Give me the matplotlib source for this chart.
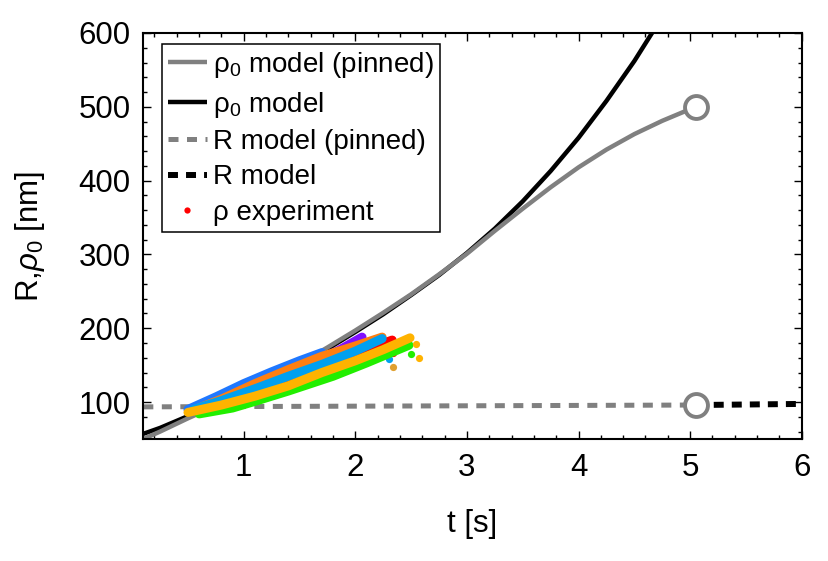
"""
Radius growth figure: rho_0 / R models (free and pinned) vs the measured rho traces.
matplotlib only.
"""

import matplotlib
matplotlib.use("Agg")
import matplotlib.pyplot as plt
from matplotlib.lines import Line2D
from matplotlib.ticker import MultipleLocator

# --- model curves (t in s, values in nm) ---
T_RHO0 = [0.1, 0.25, 0.5, 0.75, 1.0, 1.25, 1.5, 1.75, 2.0, 2.25, 2.5, 2.75,
          3.0, 3.25, 3.5, 3.75, 4.0, 4.25, 4.5, 4.7]
RHO0_MODEL = [57, 65, 81, 96, 113, 131, 151, 172, 195, 219, 245, 272,
              302, 335, 372, 413, 458, 508, 562, 610]

T_RHO0_PIN = [0.1, 0.25, 0.5, 0.75, 1.0, 1.25, 1.5, 1.75, 2.0, 2.25, 2.5, 2.75,
              3.0, 3.25, 3.5, 3.75, 4.0, 4.25, 4.5, 4.75, 5.05]
RHO0_PINNED = [50, 60, 78, 95, 113, 132, 152, 174, 197, 221, 246, 273,
               301, 332, 362, 391, 418, 442, 463, 481, 500]

T_R_PIN = [0.1, 5.05]
R_PINNED = [93.5, 96]
T_R = [5.05, 6.0]
R_MODEL = [96, 97.5]

# pinning point (open circles)
T_PIN = 5.05
PIN_VALUES = [500, 96]

# --- experimental rho traces ---
T_BLUE = [0.5, 0.75, 1.0, 1.25, 1.5, 1.7]
RHO_BLUE = [90, 107, 125, 141, 156, 167]
T_PURPLE = [0.55, 0.8, 1.1, 1.4, 1.62, 1.85, 2.06]
RHO_PURPLE = [88, 101, 121, 140, 153, 170, 188]
T_ORANGE = [0.55, 0.8, 1.1, 1.4, 1.7, 2.0, 2.24]
RHO_ORANGE = [89, 104, 125, 144, 162, 176, 188]
T_RED = [0.6, 1.0, 1.4, 1.7, 1.96, 2.15, 2.33]
RHO_RED = [88, 106, 130, 146, 160, 174, 184]
T_CYAN = [0.55, 0.8, 1.1, 1.4, 1.7, 2.0, 2.24]
RHO_CYAN = [90, 102, 118, 135, 151, 169, 186]
T_GREEN = [0.6, 0.9, 1.1, 1.4, 1.8, 2.1, 2.48]
RHO_GREEN = [84, 92, 101, 115, 135, 153, 177]
T_YELLOW = [0.5, 0.8, 1.1, 1.4, 1.7, 2.0, 2.25, 2.49]
RHO_YELLOW = [86, 96, 108, 122, 140, 156, 171, 187]

# stray points at the end of the traces
TAIL_T_ORANGE = [2.24]
TAIL_RHO_ORANGE = [163]
TAIL_T_RED = [2.34]
TAIL_RHO_RED = [166]
TAIL_T_CYAN = [2.30]
TAIL_RHO_CYAN = [159]
TAIL_T_GREEN = [2.50]
TAIL_RHO_GREEN = [165]
TAIL_T_YELLOW = [2.54, 2.57]
TAIL_RHO_YELLOW = [178, 160]
TAIL_T_GOLD = [2.34]
TAIL_RHO_GOLD = [148]

GRAY = "#808080"


def draw_traces(ax):
    traces = [
        (T_PURPLE, RHO_PURPLE, [], [], "#7F10FF"),
        (T_BLUE, RHO_BLUE, [], [], "#1F78FF"),
        (T_ORANGE, RHO_ORANGE, TAIL_T_ORANGE, TAIL_RHO_ORANGE, "#FF7F10"),
        (T_RED, RHO_RED, TAIL_T_RED, TAIL_RHO_RED, "#FF0000"),
        (T_CYAN, RHO_CYAN, TAIL_T_CYAN, TAIL_RHO_CYAN, "#00A0F0"),
        (T_GREEN, RHO_GREEN, TAIL_T_GREEN, TAIL_RHO_GREEN, "#22EE00"),
        (T_YELLOW, RHO_YELLOW, TAIL_T_YELLOW, TAIL_RHO_YELLOW, "#FFB300"),
        ([], [], TAIL_T_GOLD, TAIL_RHO_GOLD, "#E0A030"),
    ]
    for t, r, tt, tr, c in traces:
        if t:
            ax.plot(t, r, color=c, lw=6.5, solid_capstyle="round",
                    solid_joinstyle="round", zorder=3)
        if tt:
            ax.plot(tt, tr, "o", color=c, ms=5.2, mec="none", zorder=3)


def main():
    plt.rcParams["font.family"] = ["Liberation Sans", "DejaVu Sans"]
    plt.rcParams["mathtext.fontset"] = "custom"
    plt.rcParams["mathtext.rm"] = "Liberation Sans"
    plt.rcParams["mathtext.it"] = "Liberation Sans:italic"

    fig = plt.figure(figsize=(8.29, 5.61), dpi=100)
    ax = fig.add_axes([0.1729, 0.2175, 0.7942, 0.7237])

    l_pin, = ax.plot(T_RHO0_PIN, RHO0_PINNED, color=GRAY, lw=3.2, zorder=2.2,
                     solid_capstyle="butt")
    l_mod, = ax.plot(T_RHO0, RHO0_MODEL, color="black", lw=3.2, zorder=2.1,
                     solid_capstyle="butt")
    l_rpin, = ax.plot(T_R_PIN, R_PINNED, color=GRAY, lw=3.6, dashes=(2.0, 1.7),
                      zorder=2)
    l_r, = ax.plot(T_R, R_MODEL, color="black", lw=4.3, dashes=(1.67, 1.35),
                   zorder=2)
    ax.plot([T_PIN] * len(PIN_VALUES), PIN_VALUES, "o", ms=16.5, mfc="white",
            mec=GRAY, mew=2.8, zorder=5)

    draw_traces(ax)

    ax.set_xlim(0.1, 6)
    ax.set_ylim(50, 600)
    ax.xaxis.set_major_locator(MultipleLocator(1))
    ax.xaxis.set_minor_locator(MultipleLocator(0.2))
    ax.yaxis.set_major_locator(MultipleLocator(100))
    ax.yaxis.set_minor_locator(MultipleLocator(20))
    ax.tick_params(which="both", direction="in", top=True, right=True,
                   width=1.0, labelsize=22.5)
    ax.tick_params(which="major", length=6)
    ax.tick_params(which="minor", length=3)
    ax.tick_params(axis="x", pad=10)
    ax.tick_params(axis="y", pad=9)
    for s in ax.spines.values():
        s.set_linewidth(1.5)

    ax.set_xlabel("t [s]", fontsize=22.5, labelpad=19)
    ax.set_ylabel("R,$\\rho_0$ [nm]", fontsize=22.5, labelpad=23)

    dot = Line2D([], [], ls="none", marker="o", ms=4.5, color="red", mec="none")
    leg = ax.legend(
        [l_pin, l_mod, l_rpin, l_r, dot],
        ["ρ$_0$ model (pinned)", "ρ$_0$ model", "R model (pinned)", "R model",
         "ρ experiment"],
        loc="upper left", bbox_to_anchor=(0.028, 0.973), borderaxespad=0,
        fontsize=20, frameon=True, fancybox=False, edgecolor="black",
        framealpha=1, handlelength=1.4, handletextpad=0.22,
        labelspacing=0.34, borderpad=0.22,
    )
    leg.get_frame().set_linewidth(1.1)
    leg.set_zorder(6)

    fig.savefig("out.png", dpi=100)
    plt.close(fig)


if __name__ == "__main__":
    main()
